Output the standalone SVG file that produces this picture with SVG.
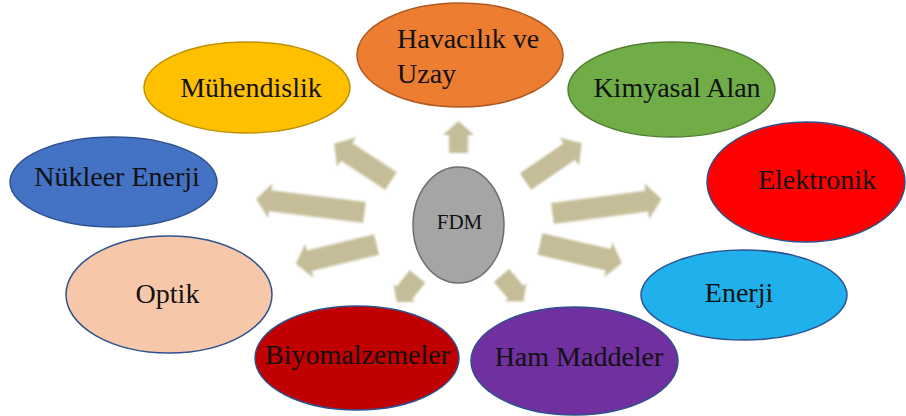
<svg xmlns="http://www.w3.org/2000/svg" width="906" height="416" viewBox="0 0 906 416">
  <defs>
    <filter id="soft" x="-20%" y="-20%" width="140%" height="140%">
      <feGaussianBlur stdDeviation="0.8"/>
    </filter>
  </defs>
  <style>
    .arrow { fill: #C4BD97; filter: url(#soft); }
    .node { stroke-width: 1.5; }
    .lbl { font-family: "Liberation Serif", "Times New Roman", serif; font-size: 28px; fill: #111; text-anchor: middle; }
    .blue { stroke: #2F528F; }
  </style>
  <rect width="906" height="416" fill="#ffffff"/>

  <g id="connectors">
    <!-- to Mühendislik -->
    <polygon class="arrow" transform="translate(391,181) rotate(213.2)" points="0,-10.5 53,-10.5 53,-17.5 68,0 53,17.5 53,10.5 0,10.5"/>
    <!-- to Nükleer Enerji -->
    <polygon class="arrow" transform="translate(364.5,212.5) rotate(187.1)" points="0,-10.5 95,-10.5 95,-17.5 109,0 95,17.5 95,10.5 0,10.5"/>
    <!-- to Optik -->
    <polygon class="arrow" transform="translate(376.5,244.5) rotate(166.4)" points="0,-10.5 69,-10.5 69,-17.5 83,0 69,17.5 69,10.5 0,10.5"/>
    <!-- to Biyomalzemeler -->
    <polygon class="arrow" transform="translate(417.5,276.5) rotate(128.8)" points="0,-10 21,-10 21,-14 33,0 21,14 21,10 0,10"/>
    <!-- to Havacılık ve Uzay -->
    <polygon class="arrow" transform="translate(458.5,153) rotate(-90)" points="0,-9.5 18,-9.5 18,-15.5 32,0 18,15.5 18,9.5 0,9.5"/>
    <!-- to Kimyasal Alan -->
    <polygon class="arrow" transform="translate(525.5,181.5) rotate(-34.3)" points="0,-10 53,-10 53,-17 68,0 53,17 53,10 0,10"/>
    <!-- to Elektronik -->
    <polygon class="arrow" transform="translate(552.5,213.5) rotate(-7.5)" points="0,-10.5 95,-10.5 95,-18 110,0 95,18 95,10.5 0,10.5"/>
    <!-- to Enerji -->
    <polygon class="arrow" transform="translate(540,244) rotate(13)" points="0,-11 70,-11 70,-18 84,0 70,18 70,11 0,11"/>
    <!-- to Ham Maddeler -->
    <polygon class="arrow" transform="translate(501.5,275.5) rotate(49.7)" points="0,-10 22,-10 22,-14 34,0 22,14 22,10 0,10"/>
  </g>

  <g id="fdm">
    <ellipse class="node" cx="458.5" cy="225" rx="45.5" ry="58" fill="#A5A5A5" stroke="#6E6E6E"/>
    <text class="lbl" x="459.5" y="229" style="font-size:21px">FDM</text>
  </g>

  <g id="muhendislik">
    <ellipse class="node" cx="247" cy="87.5" rx="103" ry="45.5" fill="#FFC000" stroke="#BF9000"/>
    <text class="lbl" x="251" y="97">Mühendislik</text>
  </g>

  <g id="havacilik">
    <ellipse class="node" cx="460" cy="55" rx="103" ry="52" fill="#ED7D31" stroke="#AE5A21"/>
    <text class="lbl" x="397" y="48" style="text-anchor:start">Havacılık ve</text>
    <text class="lbl" x="397" y="83" style="text-anchor:start">Uzay</text>
  </g>

  <g id="kimyasal">
    <ellipse class="node" cx="671.5" cy="89.5" rx="103.5" ry="47.5" fill="#70AD47" stroke="#507E32"/>
    <text class="lbl" x="677" y="97">Kimyasal Alan</text>
  </g>

  <g id="nukleer">
    <ellipse class="node blue" cx="113.5" cy="182" rx="103.5" ry="45" fill="#4472C4"/>
    <text class="lbl" x="117" y="185.5">Nükleer Enerji</text>
  </g>

  <g id="elektronik">
    <ellipse class="node blue" cx="806" cy="182" rx="99" ry="60" fill="#FF0000"/>
    <text class="lbl" x="817" y="189">Elektronik</text>
  </g>

  <g id="optik">
    <ellipse class="node blue" cx="169" cy="294.5" rx="103" ry="58.5" fill="#F6C8A9"/>
    <text class="lbl" x="167.5" y="303">Optik</text>
  </g>

  <g id="enerji">
    <ellipse class="node blue" cx="744" cy="295" rx="103" ry="45" fill="#20B0EC"/>
    <text class="lbl" x="739" y="302">Enerji</text>
  </g>

  <g id="biyomalzemeler">
    <ellipse class="node blue" cx="357" cy="358" rx="102" ry="52" fill="#C00000"/>
    <text class="lbl" x="357.5" y="364">Biyomalzemeler</text>
  </g>

  <g id="hammaddeler">
    <ellipse class="node blue" cx="574.5" cy="361" rx="103.5" ry="54" fill="#7030A0"/>
    <text class="lbl" x="579" y="366">Ham Maddeler</text>
  </g>
</svg>
